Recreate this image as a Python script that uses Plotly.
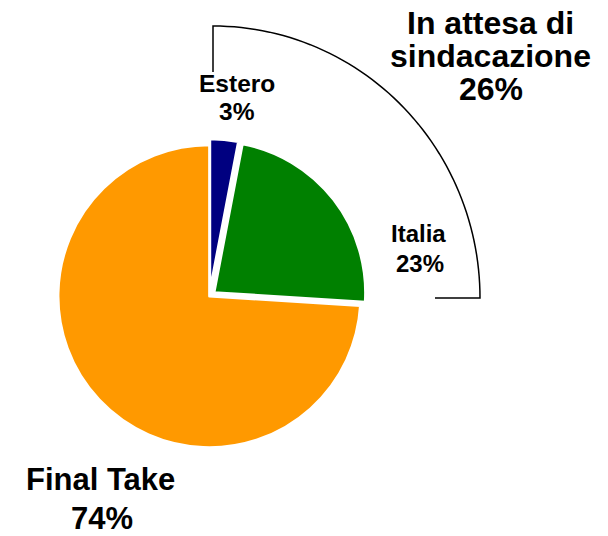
import numpy as np
import plotly.graph_objects as go

labels = ["Estero", "Italia", "Final Take"]
values = [3, 23, 74]
colors = ["#000080", "#008000", "#FF9900"]
pulls = [0.04, 0.04, 0.0]
pct_labels = ["3%", "23%", "74%"]
group_label = ["In attesa di", "sindacazione", "26%"]

W, H = 608, 536
FONT = "Liberation Sans, Arial, sans-serif"

def px(x):
    return x / W

def py(y):
    return 1 - y / H

# pie geometry (pixels)
cx, cy, r = 209.4, 296.2, 151.2
half = r * (1 + max(pulls))

fig = go.Figure(go.Pie(
    labels=labels, values=values, sort=False, direction="clockwise", rotation=0,
    marker=dict(colors=colors, line=dict(color="white", width=2.5)),
    pull=pulls, textinfo="none", hoverinfo="label+percent", showlegend=False,
    domain=dict(x=[px(cx - half), px(cx + half)], y=[py(cy + half), py(cy - half)]),
))

annotations = []
def add(text, x, baseline, size):
    annotations.append(dict(text=f"<b>{text}</b>", x=px(x), y=py(baseline - 0.35 * size),
                            xref="paper", yref="paper", borderpad=0,
                            showarrow=False, xanchor="center", yanchor="middle",
                            font=dict(family=FONT, size=size, color="black")))

big = 32
add(group_label[0], 490.5, 34.3, big)
add(group_label[1], 490.5, 67.7, big)
add(group_label[2], 490.8, 100.0, big)
add(labels[0], 237, 92.5, 24.5)
add(pct_labels[0], 237, 120.0, 24.5)
add(labels[1], 418.5, 242.3, 24)
add(pct_labels[1], 420, 271.7, 24)
add(labels[2], 100, 490.0, 31)
add(pct_labels[2], 101.7, 529.5, 31)

# bracket around "In attesa di sindacazione"
bx, by, rx, ry = 213.0, 298.0, 267.0, 272.0
pts = [(bx, 72.0), (bx, by - ry)]
for t in np.linspace(0, np.pi / 2, 60)[1:]:
    pts.append((bx + rx * np.sin(t), by - ry * np.cos(t)))
pts.append((435.0, by))
path = "M " + " L ".join(f"{px(a):.5f},{py(b):.5f}" for a, b in pts)

fig.update_layout(
    width=W, height=H, margin=dict(l=0, r=0, t=0, b=0),
    paper_bgcolor="white", plot_bgcolor="white",
    annotations=annotations,
    shapes=[dict(type="path", path=path, xref="paper", yref="paper",
                 line=dict(color="black", width=1.5))],
)
fig.write_html("out.html")
